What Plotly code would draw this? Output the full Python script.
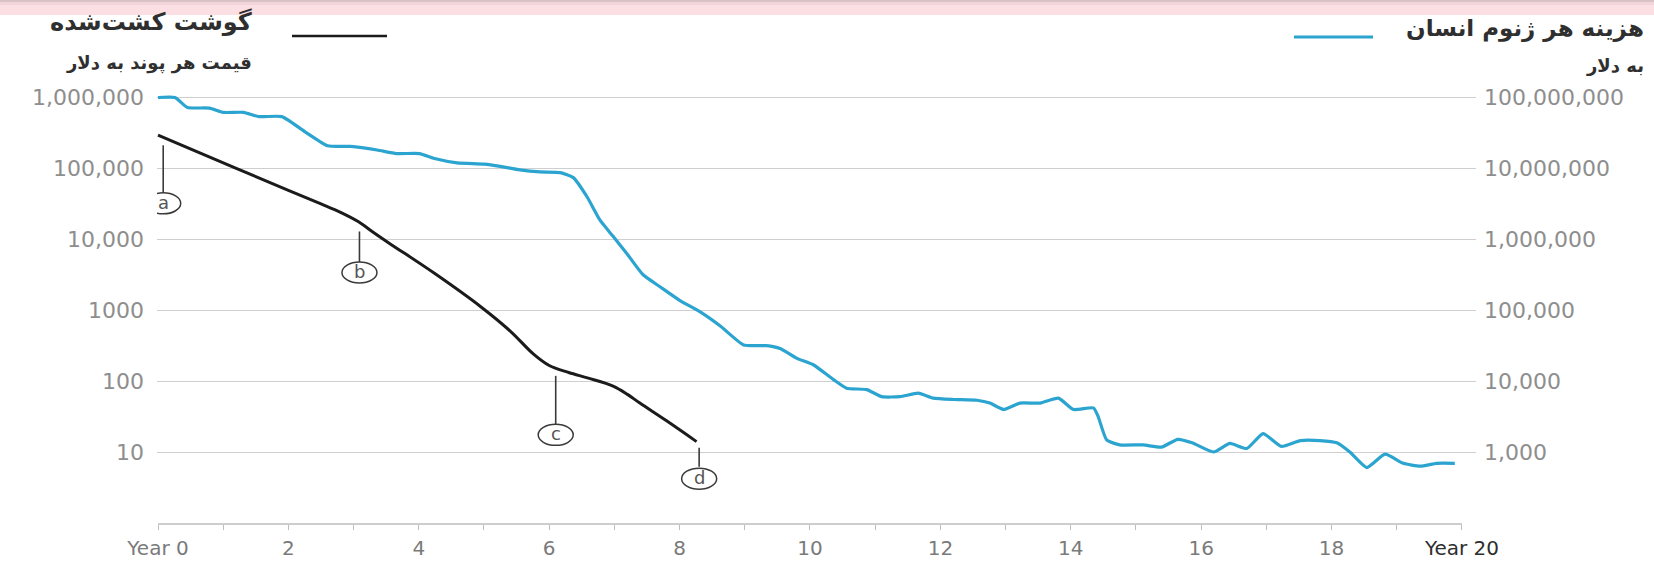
import numpy as np
import plotly.graph_objects as go

# ---------------- data ----------------
years_meat = [0, 1.2, 2.0, 2.5, 2.8, 3.07, 3.3, 3.54, 4.24, 4.95, 5.41, 5.76, 6.0, 6.3, 6.6,
              6.98, 7.2, 7.39, 7.80, 8.26]
price_meat = [295000, 100000, 49000, 31600, 24000, 17800, 12600, 8900, 3310, 1120, 500, 240,
              166, 132, 110, 85, 65, 49, 27.5, 14]

years_genome = [0, 0.26, 0.45, 0.79, 1.0, 1.31, 1.55, 1.9, 2.25, 2.6, 2.95, 3.36, 3.66, 4.01, 4.24,
                4.59, 5.0, 5.25, 5.55, 5.86, 6.17, 6.37, 6.58, 6.78, 6.98, 7.19, 7.44, 7.70, 8.0,
                8.31, 8.62, 8.98, 9.33, 9.54, 9.80, 10.05, 10.36, 10.56, 10.87, 11.10, 11.38, 11.66,
                11.89, 12.20, 12.56, 12.76, 12.97, 13.22, 13.53, 13.81, 14.04, 14.35, 14.42, 14.55,
                14.75, 15.11, 15.39, 15.64, 15.86, 16.19, 16.44, 16.70, 16.95, 17.23, 17.52, 17.82,
                18.08, 18.28, 18.54, 18.82, 19.10, 19.36, 19.61, 19.89]
cost_genome = [100000000, 100000000, 72400000, 70800000, 61700000, 61700000, 53700000, 53700000,
               33100000, 20900000, 20400000, 18200000, 16200000, 16200000, 13800000, 12000000,
               11500000, 10700000, 9550000, 8910000, 8710000, 7410000, 3980000, 1860000, 1100000,
               631000, 316000, 214000, 138000, 95500, 60300, 32400, 31600, 28800, 20900, 17000,
               10500, 7940, 7590, 6030, 6030, 6760, 5750, 5500, 5370, 4900, 3980, 4900, 4900, 5750,
               3980, 4170, 3160, 1480, 1260, 1260, 1170, 1510, 1350, 1000, 1320, 1120, 1820, 1200,
               1450, 1450, 1350, 1000, 603, 933, 692, 631, 692, 692]

left_ticks = [10, 100, 1000, 10000, 100000, 1000000]
left_labels = ["10", "100", "1000", "10,000", "100,000", "1,000,000"]
right_ticks = [1e3, 1e4, 1e5, 1e6, 1e7, 1e8]
right_labels = ["1,000", "10,000", "100,000", "1,000,000", "10,000,000", "100,000,000"]
x_ticks = list(range(21))
x_labels = ["Year 0", "", "2", "", "4", "", "6", "", "8", "", "10", "", "12", "", "14", "",
            "16", "", "18", "", "<span style='color:#2e2e2e'>Year 20</span>"]

annot_labels = ["a", "b", "c", "d"]
annot_years = [0.08, 3.09, 6.10, 8.30]

title_meat = "گوشت کشت\u200cشده"
sub_meat = "قیمت هر پوند به دلار"
title_genome = "هزینه هر ژنوم انسان"
sub_genome = "به دلار"

# ---------------- layout geometry ----------------
W, H = 1654, 564
L, R, T, B = 157, 178, 85, 40
PW, PH = W - L - R, H - T - B
Y_RANGE = [-0.0155, 6.1763]
Y2_RANGE = [Y_RANGE[0] + 2, Y_RANGE[1] + 2]
X_RANGE = [-0.0153, 20.215]


def px_x(px):
    return (px - L) / PW


def px_y(py):
    return (H - B - py) / PH


def log_to_paper(lv):
    return (lv - Y_RANGE[0]) / (Y_RANGE[1] - Y_RANGE[0])


BLACK = "#1b1b1b"
BLUE = "#2ba4d0"
TICK_FONT = dict(family="DejaVu Sans", size=22, color="#8e8e8e")
FA_FONT = "DejaVu Sans"

fig = go.Figure()
fig.add_trace(go.Scatter(x=years_meat, y=price_meat, mode="lines", yaxis="y",
                         line=dict(color=BLACK, width=3, shape="spline", smoothing=1.0),
                         hoverinfo="skip", showlegend=False))
fig.add_trace(go.Scatter(x=years_genome, y=cost_genome, mode="lines", yaxis="y2",
                         line=dict(color=BLUE, width=3.2, shape="spline", smoothing=0.5),
                         hoverinfo="skip", showlegend=False))

shapes = []
annotations = []

# top pink band
for (a, b, c) in [(0, 2, "#d8c2c5"), (2, 5, "#f2d5d8"), (5, 15, "#fcdfe2")]:
    shapes.append(dict(type="rect", xref="paper", yref="paper", x0=px_x(0), x1=px_x(W),
                       y0=px_y(b), y1=px_y(a), fillcolor=c, line=dict(width=0), layer="above"))

# x axis baseline (Year 0 .. Year 20)
shapes.append(dict(type="line", xref="x", yref="paper", x0=x_ticks[0], x1=x_ticks[-1], y0=0, y1=0,
                   line=dict(color="#bdbdbd", width=1.5)))

# annotation leaders and circles attached to the meat curve
log_meat = np.log10(price_meat)
leader_offsets = [(-8, -55), (-9, -40), (-8, -57), (-6, -25)]
circle_offsets = [-66, -50, -67, -37]
for lab, yr, (l0, l1), co in zip(annot_labels, annot_years, leader_offsets, circle_offsets):
    yp = log_to_paper(float(np.interp(yr, years_meat, log_meat)))
    shapes.append(dict(type="line", xref="x", yref="paper", xsizemode="pixel", ysizemode="pixel",
                       xanchor=yr, yanchor=yp, x0=0, x1=0, y0=l0, y1=l1,
                       line=dict(color="#3a3a3a", width=1.6)))
    shapes.append(dict(type="circle", xref="x", yref="paper", xsizemode="pixel", ysizemode="pixel",
                       xanchor=yr, yanchor=yp, x0=-17.5, x1=17.5, y0=co - 10.5, y1=co + 10.5,
                       fillcolor="white", line=dict(color="#3a3a3a", width=1.5)))
    annotations.append(dict(text=lab, x=yr, y=yp, xref="x", yref="paper", yshift=co + 1,
                            showarrow=False, xanchor="center", yanchor="middle",
                            font=dict(family="DejaVu Sans", size=18, color="#555555")))

# legend keys
shapes.append(dict(type="line", xref="paper", yref="paper", x0=px_x(292), x1=px_x(387),
                   y0=px_y(36), y1=px_y(36), line=dict(color=BLACK, width=2.5)))
shapes.append(dict(type="line", xref="paper", yref="paper", x0=px_x(1294), x1=px_x(1373),
                   y0=px_y(37), y1=px_y(37), line=dict(color=BLUE, width=3)))

# headings
annotations.append(dict(text="<b>" + title_meat + "</b>", xref="paper", yref="paper",
                        x=px_x(254), y=px_y(22), xanchor="right", yanchor="middle", showarrow=False,
                        font=dict(family=FA_FONT, size=24, color="#2f2f2f")))
annotations.append(dict(text="<b>" + sub_meat + "</b>", xref="paper", yref="paper",
                        x=px_x(254), y=px_y(63), xanchor="right", yanchor="middle", showarrow=False,
                        font=dict(family=FA_FONT, size=18, color="#2f2f2f")))
annotations.append(dict(text="<b>" + title_genome + "</b>", xref="paper", yref="paper",
                        x=px_x(1646), y=px_y(29), xanchor="right", yanchor="middle", showarrow=False,
                        font=dict(family=FA_FONT, size=23, color="#2f2f2f")))
annotations.append(dict(text="<b>" + sub_genome + "</b>", xref="paper", yref="paper",
                        x=px_x(1646), y=px_y(65), xanchor="right", yanchor="middle", showarrow=False,
                        font=dict(family=FA_FONT, size=18, color="#2f2f2f")))

fig.update_layout(
    width=W, height=H,
    margin=dict(l=L, r=R, t=T, b=B, pad=0, autoexpand=False),
    paper_bgcolor="white", plot_bgcolor="white",
    showlegend=False,
    xaxis=dict(range=X_RANGE, tickmode="array", tickvals=x_ticks, ticktext=x_labels,
               ticks="outside", ticklen=5, tickwidth=1.3, tickcolor="#bdbdbd",
               showgrid=False, zeroline=False, showline=False, automargin=False,
               tickfont=dict(family="DejaVu Sans", size=20, color="#7a7a7a"),
               ticklabelstandoff=1, fixedrange=True),
    yaxis=dict(type="log", range=Y_RANGE, tickmode="array", tickvals=left_ticks, ticktext=left_labels,
               showgrid=True, gridcolor="#cfcfcf", gridwidth=1.3, zeroline=False, showline=False,
               automargin=False, ticks="", tickfont=TICK_FONT, ticklabelstandoff=12, fixedrange=True),
    yaxis2=dict(type="log", range=Y2_RANGE, overlaying="y", side="right", tickmode="array",
                tickvals=right_ticks, ticktext=right_labels, showgrid=False, zeroline=False,
                automargin=False, showline=False, ticks="", tickfont=TICK_FONT,
                ticklabelstandoff=7, fixedrange=True),
    shapes=shapes,
    annotations=annotations,
)

fig.write_html("out.html", config={"displayModeBar": False})
